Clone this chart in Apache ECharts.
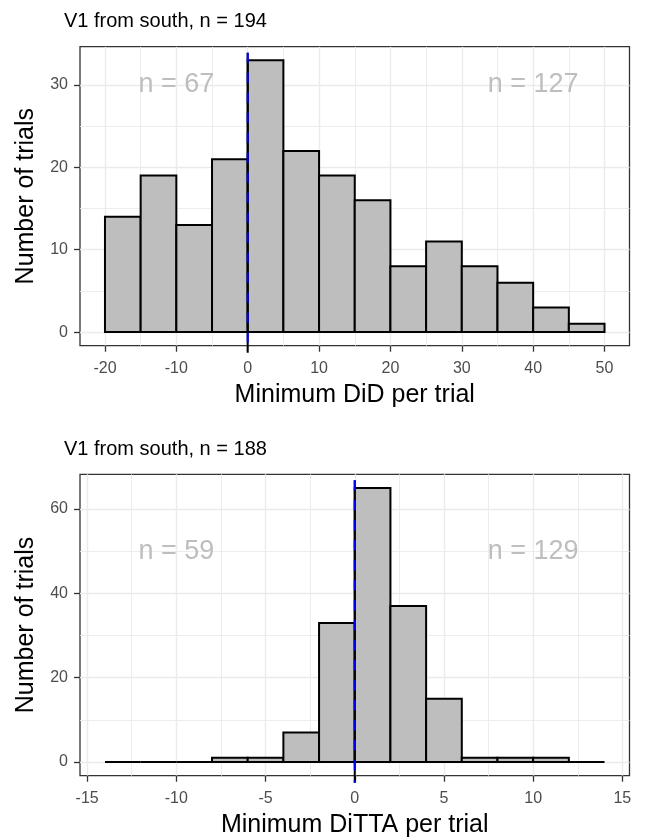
<!DOCTYPE html>
<html><head><meta charset="utf-8">
<script src="https://cdn.jsdelivr.net/npm/echarts@6/dist/echarts.min.js"></script>
<style>html,body{margin:0;padding:0;background:#fff}#c{width:645px;height:839px}</style>
</head><body><div id="c"></div>
<script>
// ---- data ----
const didBinStarts = [-20, -15, -10, -5, 0, 5, 10, 15, 20, 25, 30, 35, 40, 45];
const didBinWidth = 5;
const didCounts = [14, 19, 13, 21, 33, 22, 19, 16, 8, 11, 8, 6, 3, 1];

const dittaBinStarts = [-14, -12, -10, -8, -6, -4, -2, 0, 2, 4, 6, 8, 10, 12];
const dittaBinWidth = 2;
const dittaCounts = [0, 0, 0, 1, 1, 7, 33, 65, 37, 15, 1, 1, 1, 0];

const didXTicks = [-20, -10, 0, 10, 20, 30, 40, 50];
const didXMinor = [-15, -5, 5, 15, 25, 35, 45];
const didYTicks = [0, 10, 20, 30];
const didYMinor = [5, 15, 25];

const dittaXTicks = [-15, -10, -5, 0, 5, 10, 15];
const dittaXMinor = [-12.5, -7.5, -2.5, 2.5, 7.5, 12.5];
const dittaYTicks = [0, 20, 40, 60];
const dittaYMinor = [10, 30, 50];

const titles = ['V1 from south, n = 194', 'V1 from south, n = 188'];
const xNames = ['Minimum DiD per trial', 'Minimum DiTTA per trial'];
const yName = 'Number of trials';

const didNotes = [[-10, 30, 'n = 67'], [40, 30, 'n = 127']];
const dittaNotes = [[-10, 50, 'n = 59'], [10, 50, 'n = 129']];
const refLineX = 0;

// ---- helpers ----
const FONT = 'Liberation Sans, Arial, sans-serif';
function expandRange(lo, hi) { const e = (hi - lo) * 0.05; return [lo - e, hi + e]; }

const panels = [
  { starts: didBinStarts, width: didBinWidth, counts: didCounts,
    xT: didXTicks, xM: didXMinor, yT: didYTicks, yM: didYMinor, notes: didNotes },
  { starts: dittaBinStarts, width: dittaBinWidth, counts: dittaCounts,
    xT: dittaXTicks, xM: dittaXMinor, yT: dittaYTicks, yM: dittaYMinor, notes: dittaNotes }
];

const grids = [
  { left: 80, right: 15.5, top: 46.7, height: 299, show: true, borderColor: '#333', borderWidth: 1.3, backgroundColor: 'transparent' },
  { left: 80, right: 15.5, top: 474.3, height: 301.4, show: true, borderColor: '#333', borderWidth: 1.3, backgroundColor: 'transparent' }
];

const xAxes = [], yAxes = [], series = [];
panels.forEach((p, g) => {
  const xr = expandRange(p.starts[0], p.starts[p.starts.length - 1] + p.width);
  const yr = expandRange(0, Math.max(...p.counts));
  xAxes.push({
    type: 'value', gridIndex: g, position: 'bottom', min: xr[0], max: xr[1],
    name: xNames[g], nameLocation: 'middle', nameGap: 37,
    nameTextStyle: { fontSize: 25, color: '#000', fontFamily: FONT },
    axisLine: { show: false, onZero: false },
    axisTick: { show: true, length: 6, customValues: p.xT, lineStyle: { color: '#333', width: 1.3 } },
    axisLabel: { show: true, customValues: p.xT, margin: 15, fontSize: 16, color: '#4d4d4d', fontFamily: FONT },
    splitLine: { show: true, lineStyle: { color: '#ebebeb', width: 1.4 } }
  });
  xAxes.push({
    type: 'value', gridIndex: g, position: 'top', min: xr[0], max: xr[1],
    axisLine: { show: false, onZero: false },
    axisTick: { show: false, customValues: p.xM },
    axisLabel: { show: false },
    splitLine: { show: true, lineStyle: { color: '#ebebeb', width: 0.9 } }
  });
  yAxes.push({
    type: 'value', gridIndex: g, position: 'left', min: yr[0], max: yr[1],
    name: yName, nameLocation: 'middle', nameGap: 41, nameRotate: 90,
    nameTextStyle: { fontSize: 25, color: '#000', fontFamily: FONT },
    axisLine: { show: false, onZero: false },
    axisTick: { show: true, length: 6, customValues: p.yT, lineStyle: { color: '#333', width: 1.3 } },
    axisLabel: { show: true, customValues: p.yT, margin: 12, fontSize: 16, color: '#4d4d4d', fontFamily: FONT },
    splitLine: { show: true, lineStyle: { color: '#ebebeb', width: 1.4 } }
  });
  yAxes.push({
    type: 'value', gridIndex: g, position: 'right', min: yr[0], max: yr[1],
    axisLine: { show: false, onZero: false },
    axisTick: { show: false, customValues: p.yM },
    axisLabel: { show: false },
    splitLine: { show: true, lineStyle: { color: '#ebebeb', width: 0.9 } }
  });

  const xi = g * 2, yi = g * 2;
  series.push({
    type: 'custom', xAxisIndex: xi, yAxisIndex: yi, z: 3,
    data: p.starts.map((s, i) => [s, s + p.width, p.counts[i]]),
    encode: { x: [0, 1], y: 2 },
    renderItem: (params, api) => {
      const a = api.coord([api.value(0), 0]);
      const b = api.coord([api.value(1), api.value(2)]);
      return { type: 'rect',
        shape: { x: a[0], y: b[1], width: b[0] - a[0], height: a[1] - b[1] },
        style: { fill: '#bebebe', stroke: '#000', lineWidth: 2 } };
    }
  });
  series.push({
    type: 'custom', xAxisIndex: xi, yAxisIndex: yi, z: 5, clip: false,
    data: [[refLineX, 0]],
    renderItem: (params, api) => {
      const cs = params.coordSys;
      const x = api.coord([api.value(0), 0])[0];
      const y0 = cs.y + 6, y1 = cs.y + cs.height + 7;
      return { type: 'group', children: [
        { type: 'line', shape: { x1: x, y1: y0, x2: x, y2: y1 }, style: { stroke: '#000', lineWidth: 2 } },
        { type: 'line', shape: { x1: x, y1: y0, x2: x, y2: y1 }, style: { stroke: '#0000ff', lineWidth: 2, lineDash: [10, 10] } }
      ] };
    }
  });
  series.push({
    type: 'custom', xAxisIndex: xi, yAxisIndex: yi, z: 4,
    data: p.notes,
    encode: { x: 0, y: 1 },
    renderItem: (params, api) => {
      const c = api.coord([api.value(0), api.value(1)]);
      return { type: 'text', x: c[0], y: c[1],
        style: { text: p.notes[params.dataIndex][2], fontSize: 27, fontFamily: FONT,
          fill: '#bebebe', align: 'center', verticalAlign: 'middle' } };
    }
  });
});

const chart = echarts.init(document.getElementById('c'), null, { renderer: 'canvas' });
chart.setOption({
  animation: false,
  backgroundColor: '#fff',
  title: [
    { text: titles[0], left: 64, top: 11.5, padding: 0, textStyle: { fontSize: 20, fontWeight: 'normal', color: '#000', fontFamily: FONT } },
    { text: titles[1], left: 64, top: 439, padding: 0, textStyle: { fontSize: 20, fontWeight: 'normal', color: '#000', fontFamily: FONT } }
  ],
  grid: grids,
  xAxis: xAxes,
  yAxis: yAxes,
  series: series
});
</script>
</body></html>
